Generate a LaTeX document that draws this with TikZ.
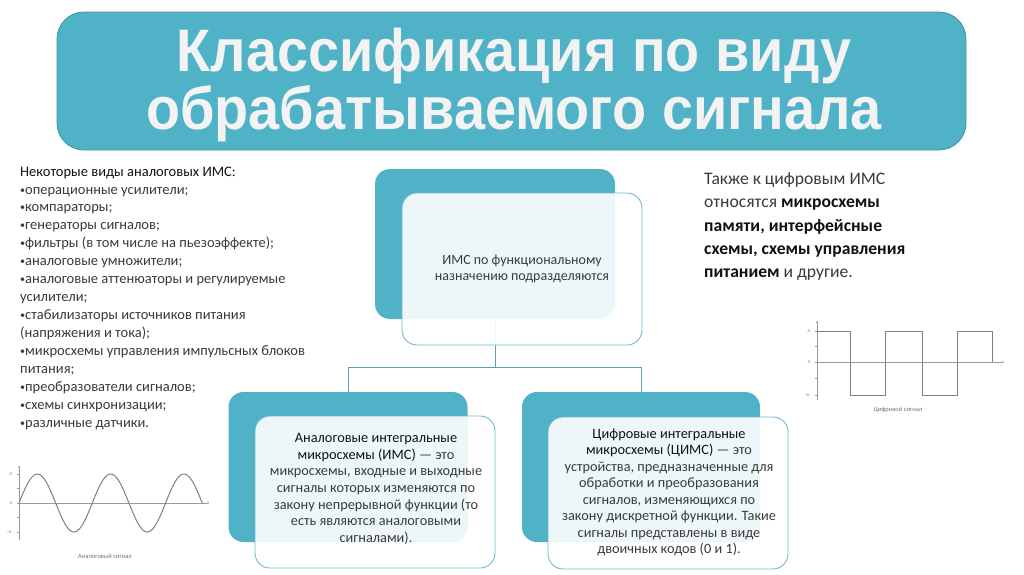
\documentclass[tikz,border=0pt]{standalone}
\usepackage{fontspec}
\setmainfont{Carlito}
\newfontfamily\titlefont[FakeStretch=0.93]{Liberation Sans}
\definecolor{tealfill}{HTML}{50B2C7}
\definecolor{tealedge}{HTML}{3F93A6}
\definecolor{frontedge}{HTML}{72B9CA}
\definecolor{connline}{HTML}{5D9FB0}
\definecolor{bodytxt}{HTML}{3A3A3A}
\definecolor{headtxt}{HTML}{111111}
\definecolor{sigcol}{HTML}{808080}
\definecolor{titletxt}{HTML}{F3F3F3}
\newcommand\mybul{{\fontsize{10}{10}\selectfont\raisebox{0.1em}{•}}}
\tikzset{
  backbox/.style={fill=tealfill, draw=none, rounded corners=15pt, inner sep=0pt},
  frontbox/.style={fill=white, fill opacity=0.9, draw=frontedge, line width=0.9pt, rounded corners=15pt, inner sep=0pt},
  boxtext/.style={text=bodytxt, align=center, inner sep=0pt},
  conn/.style={draw=connline, line width=1pt},
  axisline/.style={draw=sigcol!80, line width=0.5pt},
  sigline/.style={draw=sigcol, line width=1pt},
  ticklbl/.style={text=sigcol, font=\fontsize{4.5}{5}\selectfont, inner sep=0pt},
  caplbl/.style={text=sigcol!90!black, font=\fontsize{6.5}{7}\selectfont, inner sep=0pt}
}
\begin{document}
\begin{tikzpicture}[x=1pt,y=-1pt]
\useasboundingbox (0,0) rectangle (1024,574);
\fill[white] (0,0) rectangle (1024,574);

% title
\node[fill=tealfill, draw=tealedge, line width=0.8pt, rounded corners=27pt, minimum width=909pt, minimum height=138pt, inner sep=0pt] (title) at (511.5,81) {};
\node[anchor=north, align=center, text=titletxt, inner sep=0pt, font=\titlefont\bfseries\fontsize{60}{48}\selectfont] (titletext) at (514,28) {Классификация по виду\\обрабатываемого сигнала};

% left list
\node[anchor=north west, align=left, inner sep=0pt, text=bodytxt, font=\fontsize{14.5}{17.93}\selectfont] (list) at (20,166.5) {%
\textcolor{headtxt}{Некоторые виды аналоговых ИМС:}\\
\mybul операционные усилители;\\
\mybul компараторы;\\
\mybul генераторы сигналов;\\
\mybul фильтры (в том числе на пьезоэффекте);\\
\mybul аналоговые умножители;\\
\mybul аналоговые аттенюаторы и регулируемые\\
усилители;\\
\mybul стабилизаторы источников питания\\
(напряжения и тока);\\
\mybul микросхемы управления импульсных блоков\\
питания;\\
\mybul преобразователи сигналов;\\
\mybul схемы синхронизации;\\
\mybul различные датчики.};

% right text
\node[anchor=north west, align=left, inner sep=0pt, text=headtxt, font=\fontsize{17.6}{23.3}\selectfont] (rtext) at (704,172.5) {%
\textcolor{bodytxt}{Также к цифровым ИМС}\\
\textcolor{bodytxt}{относятся} \textbf{микросхемы}\\
\textbf{памяти, интерфейсные}\\
\textbf{схемы, схемы управления}\\
\textbf{питанием} \textcolor{bodytxt}{и другие.}};

% back boxes and connectors
\coordinate (hub) at (495,367);
\node[backbox, minimum width=240pt, minimum height=150pt] (cback) at (495,244) {};
\node[backbox, minimum width=239pt, minimum height=150pt] (lback) at (348,467) {};
\node[backbox, minimum width=238pt, minimum height=150pt] (rback) at (641,467) {};
\draw[conn] (cback.south) -- (hub);
\draw[conn] (hub) -| (lback.north);
\draw[conn] (hub) -| (rback.north);

% front boxes
\node[frontbox, minimum width=240pt, minimum height=152pt] (cfront) at (522,269) {};
\node[frontbox, minimum width=240pt, minimum height=152pt] (lfront) at (375,492) {};
\node[frontbox, minimum width=240pt, minimum height=152pt] (rfront) at (668,493) {};

\node[boxtext, anchor=north, font=\fontsize{14}{15.5}\selectfont] (ctext) at (522,255) {ИМС по функциональному\\назначению подразделяются};

\node[boxtext, anchor=north, font=\fontsize{14.3}{16.7}\selectfont] (ltext) at (376,433) {%
\textcolor{headtxt}{Аналоговые интегральные}\\
\textcolor{headtxt}{микросхемы (ИМС)} — это\\
микросхемы, входные и выходные\\
сигналы которых изменяются по\\
закону непрерывной функции (то\\
есть являются аналоговыми\\
сигналами).};

\node[boxtext, anchor=north, font=\fontsize{14.3}{16.5}\selectfont] (rtext2) at (669,428.5) {%
\textcolor{headtxt}{Цифровые интегральные}\\
\textcolor{headtxt}{микросхемы (ЦИМС)} — это\\
устройства, предназначенные для\\
обработки и преобразования\\
сигналов, изменяющихся по\\
закону дискретной функции. Такие\\
сигналы представлены в виде\\
двоичных кодов (0 и 1).};

% digital signal
\draw[axisline] (817,400) -- (817,322);
\fill[sigcol] (817,322) circle (0.9);
\draw[axisline] (817,362) -- (1002,362);
\fill[sigcol] (1003,362) circle (0.9);
\foreach \yy in {331,346.5,362,378.5,395} \draw[axisline] (815,\yy) -- (817,\yy);
\draw[sigline] (817,331) -- (850,331) -- (850,395) -- (885,395) -- (885,331) -- (922,331) -- (922,395) -- (957,395) -- (957,331) -- (992,331) -- (992,362);
\node[ticklbl] (dA) at (809,331) {A};
\node[ticklbl] (d0) at (809,362) {0};
\node[ticklbl] (dmA) at (807,395) {−A};
\node[caplbl] (dcap) at (898,410) {Цифровой сигнал};

% analog signal
\draw[axisline] (19,540) -- (19,467);
\fill[sigcol] (19,467) circle (0.9);
\draw[axisline] (19,503) -- (207,503);
\fill[sigcol] (208,503) circle (0.9);
\foreach \yy in {474,488.5,503,517.5,532} \draw[axisline] (17,\yy) -- (19,\yy);
\draw[sigline] plot[domain=0:900, samples=181, smooth] ({19+\x/360*73.3}, {503-29*sin(\x)});
\node[ticklbl] (aA) at (11,474) {A};
\node[ticklbl] (a0) at (11,503) {0};
\node[ticklbl] (amA) at (9,532) {−A};
\node[caplbl] (acap) at (105,556) {Аналоговый сигнал};
\end{tikzpicture}
\end{document}
